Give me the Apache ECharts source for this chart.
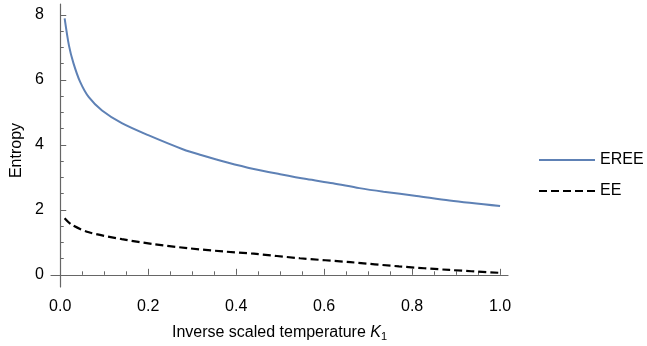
<!DOCTYPE html>
<html lang="en">
<head>
    <meta charset="UTF-8">
    <title>entropy</title>
    <script src="https://cdn.jsdelivr.net/npm/echarts@6/dist/echarts.min.js"></script>
    <style>
        body { margin: 0; background: #fff; }
    </style>
</head>
<body>
<div id="main" style="height: 346px;width: 647px"></div>

<script>
    // values
    var ereeX = [0.01, 0.02, 0.03, 0.045, 0.065, 0.095, 0.14, 0.2, 0.28, 0.32, 0.38, 0.44, 0.5, 0.56, 0.62, 0.68, 0.735, 0.81, 0.885, 1.0];
    var ereeY = [7.90, 7.05, 6.52, 5.95, 5.47, 5.06, 4.67, 4.30, 3.86, 3.69, 3.46, 3.26, 3.10, 2.95, 2.82, 2.67, 2.56, 2.43, 2.29, 2.12];
    var eeX = [0.01, 0.025, 0.065, 0.14, 0.215, 0.29, 0.37, 0.44, 0.545, 0.66, 0.77, 0.885, 1.0];
    var eeY = [1.74, 1.55, 1.31, 1.10, 0.94, 0.82, 0.72, 0.65, 0.51, 0.39, 0.26, 0.15, 0.06];

    var xTicks = [0, 0.2, 0.4, 0.6, 0.8, 1.0];
    var xMinorTicks = [0.05, 0.1, 0.15, 0.25, 0.3, 0.35, 0.45, 0.5, 0.55, 0.65, 0.7, 0.75, 0.85, 0.9, 0.95];
    var yTicks = [0, 2, 4, 6, 8];
    var yMinorTicks = [0.5, 1, 1.5, 2.5, 3, 3.5, 4.5, 5, 5.5, 6.5, 7, 7.5];

    var seriesNames = ['EREE', 'EE'];

    function pairs(xs, ys) {
        var out = [];
        for (var i = 0; i < xs.length; i++) {
            out.push([xs[i], ys[i]]);
        }
        return out;
    }

    var font = 'Liberation Sans';
    var axisColor = '#666';
    var xMin = -0.021, xMax = 1.018;
    var yMin = -0.375, yMax = 8.34;

    var myChart = echarts.init(document.getElementById("main"));

    var option = {
        animation: false,
        grid: {
            left: 51,
            right: 139,
            top: 4,
            bottom: 59,
            outerBoundsMode: 'none'
        },
        legend: {
            orient: 'vertical',
            left: 533,
            top: 147,
            itemWidth: 56,
            itemHeight: 14,
            itemGap: 15,
            itemStyle: { opacity: 0 },
            textStyle: {
                fontFamily: font,
                fontSize: 16,
                color: '#000'
            },
            data: seriesNames
        },
        xAxis: [
            {
                type: 'value',
                min: xMin,
                max: xMax,
                splitLine: { show: false },
                axisLine: { lineStyle: { color: axisColor, width: 1.2 } },
                axisTick: {
                    inside: true,
                    length: 6,
                    customValues: xTicks,
                    lineStyle: { color: axisColor }
                },
                axisLabel: {
                    customValues: xTicks,
                    margin: 12,
                    fontFamily: font,
                    fontSize: 16,
                    color: '#000',
                    formatter: function (v) { return v.toFixed(1); }
                },
                name: '{n|Inverse scaled temperature }{k|K}{s|1}',
                nameLocation: 'middle',
                nameGap: 36,
                nameTextStyle: {
                    rich: {
                        n: { fontFamily: font, fontSize: 16, color: '#000' },
                        k: { fontFamily: font, fontSize: 16, fontStyle: 'italic', color: '#000' },
                        s: { fontFamily: font, fontSize: 11, color: '#000', padding: [8, 0, 0, 0] }
                    }
                }
            },
            {
                type: 'value',
                min: xMin,
                max: xMax,
                splitLine: { show: false },
                axisLine: { show: false },
                axisTick: {
                    inside: true,
                    length: 3.5,
                    customValues: xMinorTicks,
                    lineStyle: { color: axisColor }
                },
                axisLabel: { show: false },
                position: 'bottom'
            }
        ],
        yAxis: [
            {
                type: 'value',
                min: yMin,
                max: yMax,
                splitLine: { show: false },
                axisLine: { show: true, lineStyle: { color: axisColor, width: 1.2 } },
                axisTick: {
                    show: true,
                    inside: true,
                    length: 6,
                    customValues: yTicks,
                    lineStyle: { color: axisColor }
                },
                axisLabel: {
                    customValues: yTicks,
                    margin: 7,
                    fontFamily: font,
                    fontSize: 16,
                    color: '#000'
                },
                name: 'Entropy',
                nameLocation: 'middle',
                nameGap: 26,
                nameTextStyle: {
                    fontFamily: font,
                    fontSize: 16,
                    color: '#000',
                    padding: [0, 10, 0, 0]
                }
            },
            {
                type: 'value',
                min: yMin,
                max: yMax,
                splitLine: { show: false },
                axisLine: { show: false },
                axisTick: {
                    show: true,
                    inside: true,
                    length: 3.5,
                    customValues: yMinorTicks,
                    lineStyle: { color: axisColor }
                },
                axisLabel: { show: false },
                position: 'left'
            }
        ],
        series: [
            {
                name: seriesNames[0],
                type: 'line',
                xAxisIndex: 0,
                yAxisIndex: 0,
                symbol: 'none',
                smooth: 0.3,
                color: '#5E81B5',
                lineStyle: { color: '#5E81B5', width: 2 },
                data: pairs(ereeX, ereeY)
            },
            {
                name: seriesNames[1],
                type: 'line',
                xAxisIndex: 0,
                yAxisIndex: 0,
                symbol: 'none',
                smooth: 0.3,
                color: '#000',
                lineStyle: { color: '#000', width: 2.2, type: [8, 4] },
                data: pairs(eeX, eeY)
            }
        ]
    };

    myChart.setOption(option);
</script>
</body>
</html>
